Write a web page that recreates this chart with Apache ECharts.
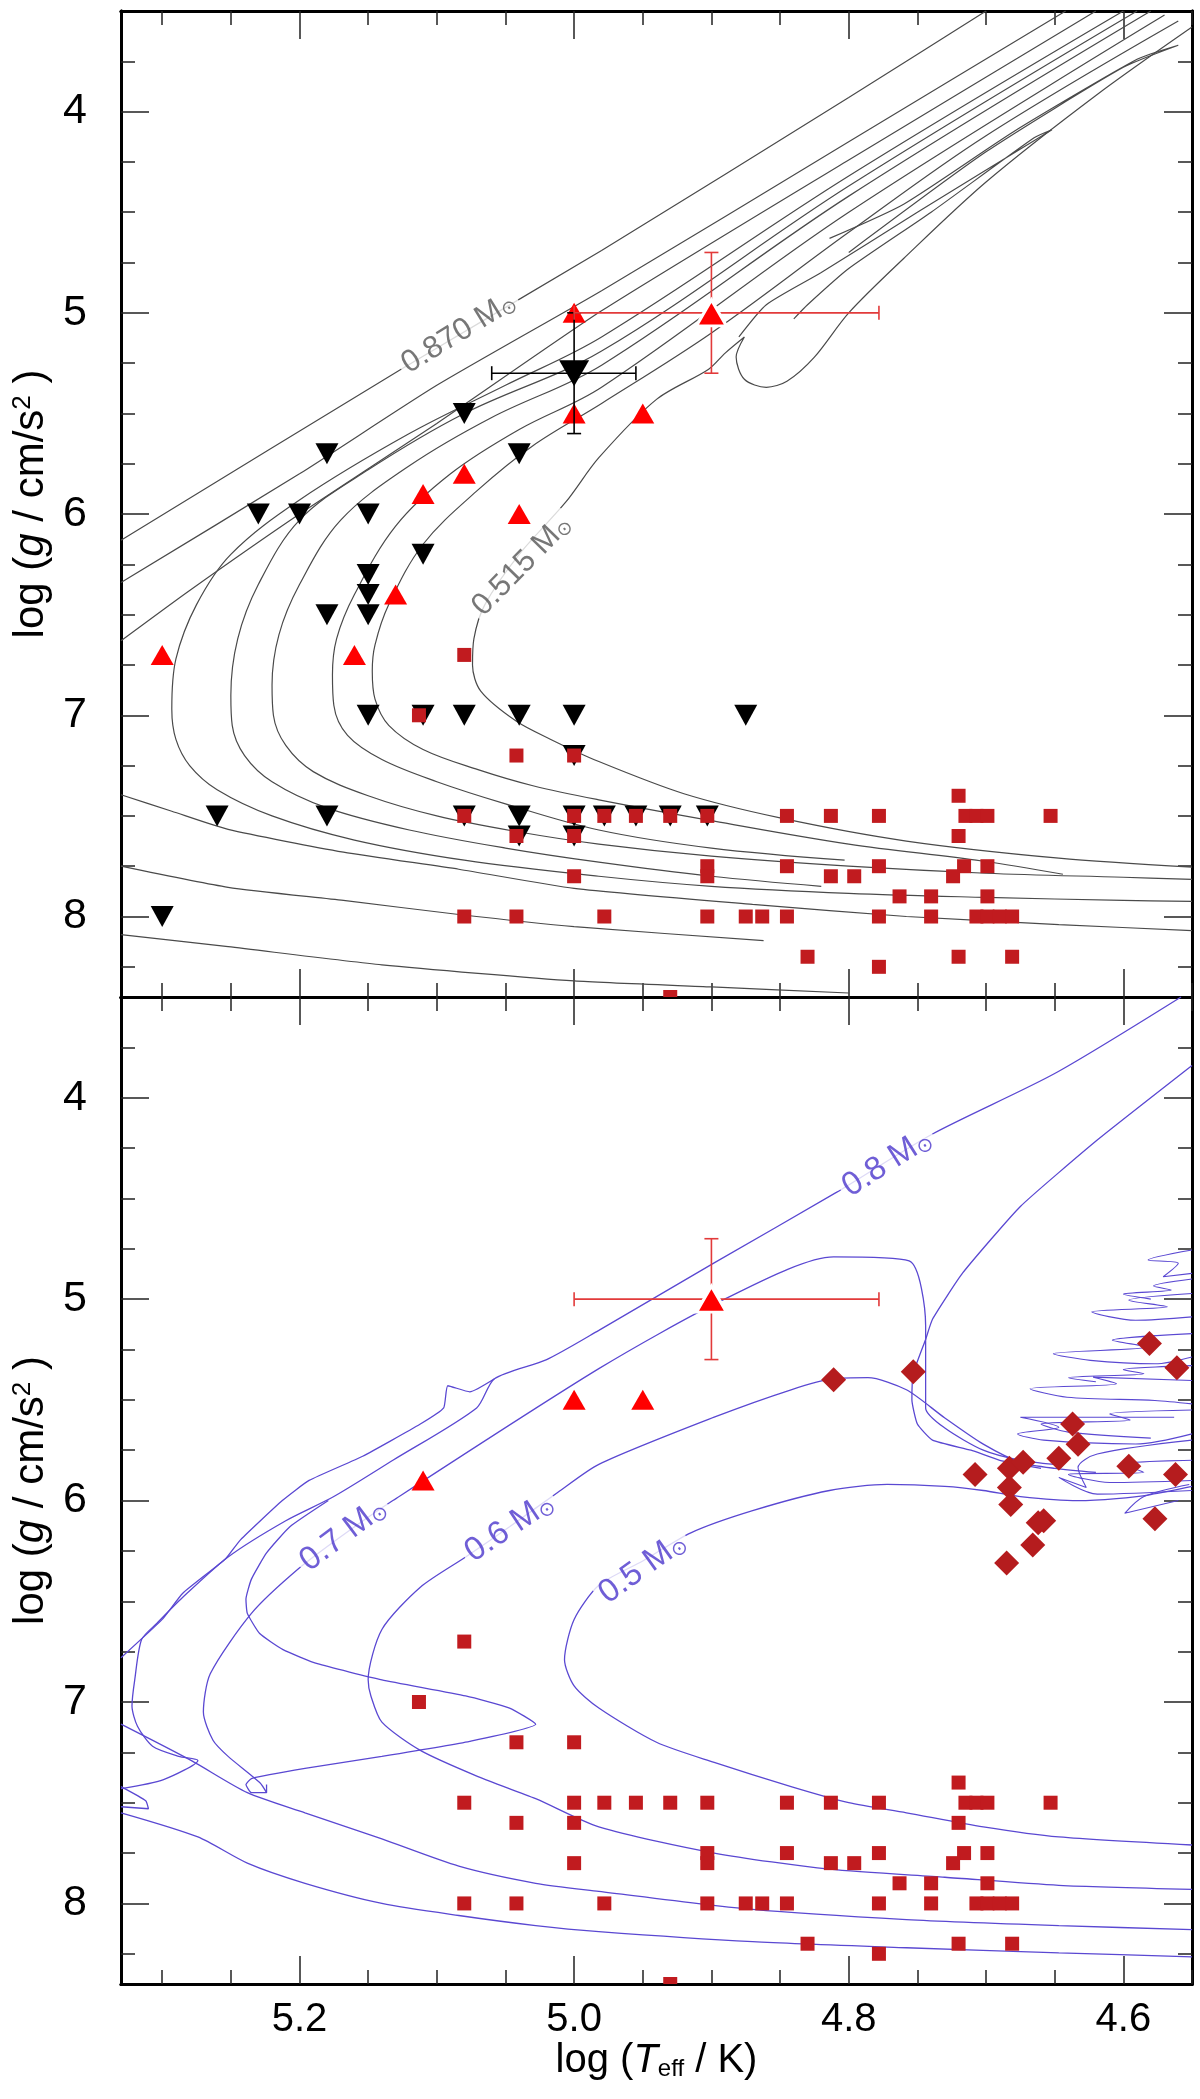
<!DOCTYPE html>
<html><head><meta charset="utf-8">
<script src="https://cdn.jsdelivr.net/npm/echarts@6/dist/echarts.min.js"></script>
<style>html,body{margin:0;padding:0;background:#fff}#c{width:1200px;height:2099px}</style>
</head><body><div id="c"></div>
<script>
// ---------------- axis ranges & ticks ----------------
const X_MIN = 4.55, X_MAX = 5.33, Y_MIN = 3.5, Y_MAX = 8.4;
const xMajorTicks = [4.6, 4.8, 5.0, 5.2];
const xMinorTicks = [4.55,4.6,4.65,4.7,4.75,4.8,4.85,4.9,4.95,5.0,5.05,5.1,5.15,5.2,5.25,5.3];
const yMajorTicks = [4, 5, 6, 7, 8];
const yMinorTicks = [3.75,4,4.25,4.5,4.75,5,5.25,5.5,5.75,6,6.25,6.5,6.75,7,7.25,7.5,7.75,8,8.25];

// ---------------- observed stars ----------------
const redSquares = [
 [5.08,6.7],[5.113,7.0],[5.042,7.2],[5.0,7.2],
 [5.08,7.5],[5.0,7.5],[4.978,7.5],[4.955,7.5],[4.93,7.5],[4.903,7.5],[4.845,7.5],[4.813,7.5],[4.778,7.5],
 [4.715,7.5],[4.707,7.5],[4.699,7.5],[4.653,7.5],[4.72,7.4],
 [5.042,7.6],[5.0,7.6],[4.72,7.6],
 [4.903,7.75],[4.845,7.75],[4.778,7.75],[4.716,7.75],[4.699,7.75],
 [5.0,7.8],[4.903,7.8],[4.813,7.8],[4.796,7.8],[4.724,7.8],
 [4.763,7.9],[4.74,7.9],[4.699,7.9],
 [5.08,8.0],[5.042,8.0],[4.978,8.0],[4.903,8.0],[4.875,8.0],[4.863,8.0],[4.845,8.0],[4.778,8.0],
 [4.74,8.0],[4.707,8.0],[4.699,8.0],[4.69,8.0],[4.681,8.0],
 [4.83,8.2],[4.72,8.2],[4.681,8.2],[4.778,8.25],[4.93,8.4]
];
const blackDown = [
 [5.08,5.5],[5.18,5.7],[5.04,5.7],[5.23,6.0],[5.2,6.0],[5.15,6.0],[5.11,6.2],[5.15,6.3],[5.15,6.4],
 [5.18,6.5],[5.15,6.5],[5.15,7.0],[5.11,7.0],[5.08,7.0],[5.04,7.0],[5.0,7.0],[4.875,7.0],[5.0,7.2],
 [5.26,7.5],[5.18,7.5],[5.08,7.5],[5.04,7.5],[5.0,7.5],[4.978,7.5],[4.955,7.5],[4.93,7.5],[4.903,7.5],
 [5.04,7.6],[5.0,7.6],[5.3,8.0]
];
const redUpTop = [[5.30,6.7],[5.16,6.7],[5.13,6.4],[5.11,5.9],[5.08,5.8],[5.04,6.0],[5.0,5.0],[5.0,5.5],[4.95,5.5]];
const redUpBottom = [[5.11,5.9],[5.0,5.5],[4.95,5.5]];
const diamonds = [
 [4.811,5.40],[4.753,5.36],[4.581,5.22],[4.561,5.34],[4.637,5.62],[4.633,5.72],[4.647,5.79],[4.596,5.83],
 [4.562,5.87],[4.708,5.87],[4.683,5.84],[4.673,5.81],[4.683,5.935],[4.682,6.02],[4.658,6.10],[4.662,6.11],
 [4.666,6.22],[4.685,6.31],[4.577,6.09]
];
// [logT, logg, logT_left, logT_right, logg_top, logg_bottom]
const bigRed = [[4.90, 5.0, 5.0, 4.778, 4.7, 5.3]];
const bigBlack = [[5.0, 5.3, 5.06, 4.955, 5.0, 5.6]];

// ---------------- top panel tracks (grey) ----------------
const trkA = [[4.70,3.50],[4.80,3.93],[4.98,4.69],[5.126,5.28],[5.33,6.13]];
const trkAlow = [[5.33,8.09],[5.252,8.15],[5.14,8.24],[5.0,8.32],[4.9,8.35],[4.8,8.38]];
const trkB = [[4.642,3.50],[4.80,4.15],[4.98,4.89],[5.1,5.36],[5.2,5.80],[5.33,6.34]];
const trkBlow = [[5.33,7.75],[5.252,7.855],[5.168,7.92],[5.084,7.99],[5.0,8.05],[4.862,8.12]];
const trkC = [[4.62,3.50],[4.80,4.24],[4.98,4.99],[5.1,5.55],[5.2,6.0],[5.28,6.38],[5.33,6.63]];
const trkClow = [[5.33,7.395],[5.293,7.477],[5.252,7.567],[5.168,7.68],[5.084,7.765],[5.0,7.86],[4.87,7.94],[4.758,8.0],[4.647,8.04],[4.55,8.07]];
const trkD = [[4.60,3.50],[4.80,4.32],[4.98,5.12],[5.05,5.36],[5.12,5.60],[5.2,5.93],[5.25,6.2],[5.275,6.45],[5.29,6.72],[5.293,6.97],[5.29,7.12],[5.28,7.25],[5.26,7.37],[5.22,7.5],[5.16,7.62],[5.08,7.72],[4.982,7.80],[4.9,7.85],[4.8,7.885],[4.7,7.905],[4.6,7.92],[4.55,7.925]];
const trkE = [[4.59,3.50],[4.80,4.37],[4.98,5.19],[5.08,5.50],[5.15,5.78],[5.2,6.03],[5.23,6.35],[5.245,6.62],[5.25,6.9],[5.249,7.05],[5.24,7.2],[5.22,7.33],[5.18,7.46],[5.12,7.57],[5.05,7.66],[4.982,7.73],[4.9,7.80],[4.82,7.85]];
const trkF = [[4.58,3.50],[4.80,4.42],[4.98,5.26],[5.06,5.52],[5.12,5.76],[5.17,6.03],[5.2,6.35],[5.215,6.6],[5.22,6.85],[5.219,7.0],[5.21,7.15],[5.19,7.28],[5.15,7.4],[5.1,7.5],[5.04,7.58],[4.982,7.64],[4.9,7.7],[4.8,7.75],[4.7,7.785],[4.6,7.805],[4.55,7.815]];
const trkG = [[4.57,3.52],[4.80,4.50],[4.98,5.37],[5.04,5.58],[5.09,5.80],[5.13,6.06],[5.16,6.4],[5.173,6.62],[5.176,6.8],[5.175,6.95],[5.165,7.1],[5.14,7.22],[5.1,7.33],[5.05,7.44],[4.982,7.57],[4.9,7.66],[4.803,7.72]];
const trkH = [[4.56,3.55],[4.70,4.12],[4.80,4.60],[4.90,5.10],[4.98,5.45],[5.03,5.66],[5.07,5.88],[5.11,6.15],[5.135,6.45],[5.145,6.65],[5.147,6.78],[5.145,6.92],[5.135,7.05],[5.11,7.17],[5.07,7.27],[5.03,7.35],[4.982,7.42],[4.898,7.526],[4.80,7.64],[4.703,7.724],[4.644,7.79]];
const trkI = [[4.55,3.58],[4.62,3.92],[4.70,4.35],[4.76,4.73],[4.80,5.0],[4.825,5.22],[4.845,5.34],[4.86,5.37],[4.876,5.33],[4.882,5.22],[4.876,5.12],[4.89,5.2],[4.902,5.28],[4.94,5.43],[4.982,5.72],[5.006,5.94],[5.04,6.2],[5.065,6.45],[5.073,6.62],[5.074,6.75],[5.068,6.88],[5.042,7.03],[5.017,7.12],[4.982,7.23],[4.92,7.39],[4.85,7.51],[4.758,7.625],[4.647,7.71],[4.55,7.755]];
const trkFinger1 = [[4.88,5.12],[4.86,4.96],[4.82,4.80],[4.75,4.50],[4.652,4.09],[4.665,4.13],[4.74,4.50],[4.80,4.78],[4.83,4.96],[4.84,5.03]];
const trkFinger2 = [[4.80,4.70],[4.70,4.20],[4.60,3.78],[4.56,3.67],[4.59,3.74],[4.68,4.10],[4.76,4.46],[4.814,4.63]];

// ---------------- bottom panel tracks (blue) ----------------
const blue08 = [[4.558,3.5],[4.65,3.88],[4.739,4.18],[4.809,4.47],[4.898,4.82],[4.982,5.155],[5.02,5.30],[5.058,5.395],[5.071,5.54],[5.132,5.80],[5.175,5.98],[5.21,6.1],[5.252,6.28],[5.285,6.48],[5.304,6.61],[5.315,6.69],[5.32,6.89],[5.322,7.02],[5.318,7.12],[5.307,7.22],[5.288,7.27],[5.274,7.29],[5.299,7.385],[5.33,7.43]];
const blue08b = [[5.058,5.395],[5.076,5.46],[5.092,5.43],[5.095,5.54],[5.112,5.62],[5.154,5.78],[5.193,5.90],[5.2125,6.0],[5.243,6.195],[5.254,6.29],[5.285,6.46],[5.30,6.59],[5.33,6.78]];
const blueLoopC = [[5.179,6.0],[5.207,6.13],[5.224,6.26],[5.235,6.39],[5.239,6.49],[5.238,6.56],[5.229,6.66],[5.212,6.74],[5.187,6.81],[5.14,6.89],[5.079,6.97],[5.047,7.03],[5.028,7.11],[5.076,7.195],[5.14,7.27],[5.196,7.33],[5.235,7.38],[5.239,7.41],[5.235,7.45],[5.224,7.45],[5.224,7.41]];
const blue07 = [[4.65,5.82],[4.675,5.80],[4.702,5.75],[4.73,5.64],[4.744,5.54],[4.744,5.13],[4.756,4.81],[4.811,4.79],[4.892,5.005],[4.982,5.345],[5.132,6.0],[5.168,6.17],[5.201,6.34],[5.235,6.56],[5.265,6.86],[5.27,7.05],[5.263,7.19],[5.252,7.27],[5.229,7.40],[5.224,7.45]];
const blueCool1 = [[5.33,7.11],[5.279,7.29],[5.238,7.45],[5.196,7.55],[5.14,7.68],[5.084,7.815],[5.028,7.90],[4.982,7.94],[4.87,8.03],[4.758,8.08],[4.647,8.11],[4.55,8.13]];
const blueCool2 = [[5.33,7.55],[5.274,7.67],[5.238,7.80],[5.196,7.90],[5.14,8.0],[5.084,8.06],[5.028,8.11],[4.982,8.14],[4.87,8.19],[4.758,8.22],[4.647,8.245],[4.55,8.265]];
const blueEdgeLoop = [[5.33,7.42],[5.312,7.49],[5.31,7.53],[5.33,7.52]];
const blue06 = [[4.62,5.86],[4.65,5.84],[4.675,5.81],[4.702,5.72],[4.73,5.59],[4.758,5.45],[4.786,5.39],[4.811,5.395],[4.842,5.45],[4.898,5.586],[4.982,5.82],[5.012,5.96],[5.047,6.13],[5.079,6.28],[5.112,6.43],[5.14,6.64],[5.15,6.89],[5.148,6.97],[5.14,7.10],[5.112,7.24],[5.07,7.37],[5.028,7.48],[4.982,7.62],[4.898,7.75],[4.814,7.83],[4.73,7.87],[4.647,7.91],[4.55,7.93]];
const blue05 = [[4.55,5.93],[4.58,5.97],[4.605,5.99],[4.633,6.0],[4.675,5.98],[4.702,5.95],[4.73,5.93],[4.772,5.92],[4.814,5.95],[4.870,6.05],[4.915,6.16],[4.95,6.3],[4.982,6.42],[5.0,6.59],[5.007,6.79],[5.0,6.92],[4.982,7.03],[4.94,7.20],[4.898,7.30],[4.842,7.42],[4.80,7.50],[4.758,7.55],[4.702,7.62],[4.647,7.67],[4.55,7.71]];
const blueAGB = [[4.55,3.84],[4.619,4.21],[4.675,4.54],[4.717,4.87],[4.739,5.10],[4.744,5.20],[4.753,5.37],[4.754,5.50],[4.75,5.62],[4.739,5.70],[4.711,5.75],[4.69,5.80],[4.66,5.84]];
const blueFingerA = [[4.55,4.756],[4.582,4.806],[4.56,4.822],[4.571,4.889],[4.55,4.872]];
const blueFingerB = [[4.55,4.972],[4.596,5.005],[4.568,5.038],[4.623,5.063],[4.591,5.105],[4.55,5.088]];
const blueFingerC = [[4.55,5.171],[4.608,5.204],[4.582,5.238],[4.651,5.271],[4.624,5.304],[4.577,5.321],[4.55,5.287]];
const blueFingerD = [[4.55,5.404],[4.622,5.387],[4.605,5.42],[4.668,5.445],[4.641,5.487],[4.577,5.503],[4.55,5.52]];
const blueFingerE = [[4.563,5.586],[4.675,5.586],[4.647,5.636],[4.677,5.669],[4.658,5.70],[4.591,5.719],[4.55,5.669]];
const blueFingerF = [[4.55,5.70],[4.619,5.769],[4.633,5.836],[4.627,5.935],[4.647,5.885],[4.619,5.968],[4.55,5.95]];
const blueFingerG = [[4.552,5.92],[4.585,5.98],[4.599,6.063],[4.56,6.0]];
const blueFingerH = [[4.55,4.90],[4.578,4.935],[4.565,4.955],[4.60,4.975],[4.58,5.0]];
const blueFingerI = [[4.55,5.33],[4.60,5.35],[4.585,5.37],[4.64,5.39],[4.62,5.41]];
const blueFingerJ = [[4.55,5.55],[4.61,5.57],[4.595,5.60],[4.66,5.62],[4.64,5.66],[4.58,5.69]];
const blueFingerK = [[4.55,5.80],[4.60,5.82],[4.585,5.86],[4.64,5.87],[4.61,5.91],[4.55,5.90]];

// ---------------- track labels ----------------
const topLabelText = ['0.870', '0.515'];
const topLabelPos = [[5.084, 5.10], [5.038, 6.255]];
const bottomLabelText = ['0.8', '0.7', '0.6', '0.5'];
const bottomLabelPos = [[4.772, 4.324], [5.168, 6.17], [5.047, 6.134], [4.95, 6.335]];

// ---------------- rendering ----------------
const FONT = '"Liberation Sans", Arial, Helvetica, sans-serif';
const GREY = '#4a4a4a', BLUE = '#5a48d2', BLUE_TXT = '#4b36cc';
const topAngles = [31.6, 45.7];
const bottomAngles = [32.4, 37, 33.5, 35.6];
const grids = [
  {left: 121, right: 8, top: 11, height: 986},
  {left: 121, right: 8, top: 997, height: 987}
];
const isIn = (v, arr) => arr.some(a => Math.abs(a - v) < 1e-6);

function mkX(g, pos, ticks, len, labels) {
  const ax = {
    type: 'value', gridIndex: g, position: pos, min: X_MIN, max: X_MAX, inverse: true, interval: 0.05,
    axisLine: {show: true, onZero: false, lineStyle: {color: '#000', width: 3}},
    axisTick: {show: true, inside: true, length: len, customValues: ticks, lineStyle: {color: '#222', width: 1.5}},
    axisLabel: {show: false}, splitLine: {show: false}
  };
  if (labels) {
    ax.axisLabel = {show: true, customValues: xMajorTicks, fontSize: 40, fontFamily: FONT, color: '#000', margin: 16,
      formatter: v => isIn(v, xMajorTicks) ? v.toFixed(1) : ''};
    ax.name = '{a|log (}{i|T}{s|eff}{a| / K)}';
    ax.nameLocation = 'middle';
    ax.nameGap = 57;
    ax.nameTextStyle = {color: '#000', rich: {
      a: {fontSize: 40, fontFamily: FONT, color: '#000'},
      i: {fontSize: 40, fontFamily: FONT, fontStyle: 'italic', color: '#000'},
      s: {fontSize: 24, fontFamily: FONT, color: '#000', verticalAlign: 'bottom'}
    }};
  }
  return ax;
}
function mkY(g, pos, ticks, len, labels) {
  const ax = {
    type: 'value', gridIndex: g, position: pos, min: Y_MIN, max: Y_MAX, inverse: true, interval: 0.25,
    axisLine: {show: true, onZero: false, lineStyle: {color: '#000', width: 3}},
    axisTick: {show: true, inside: true, length: len, customValues: ticks, lineStyle: {color: '#222', width: 1.5}},
    axisLabel: {show: false}, splitLine: {show: false}
  };
  if (labels) {
    ax.axisLabel = {show: true, customValues: yMajorTicks, fontSize: 43, fontFamily: FONT, color: '#000', margin: 34,
      formatter: v => isIn(v, yMajorTicks) ? String(Math.round(v)) : ''};
  }
  return ax;
}
const xAxis = [], yAxis = [];
for (let g = 0; g < 2; g++) {
  xAxis.push(mkX(g, 'bottom', xMinorTicks, 14, g === 1));
  xAxis.push(mkX(g, 'bottom', xMajorTicks, 28, false));
  xAxis.push(mkX(g, 'top', xMinorTicks, 14, false));
  xAxis.push(mkX(g, 'top', xMajorTicks, 28, false));
  yAxis.push(mkY(g, 'left', yMinorTicks, 14, true));
  yAxis.push(mkY(g, 'left', yMajorTicks, 28, false));
  yAxis.push(mkY(g, 'right', yMinorTicks, 14, false));
  yAxis.push(mkY(g, 'right', yMajorTicks, 28, false));
}

const series = [];
function line(g, data, color, width, smooth) {
  series.push({type: 'line', xAxisIndex: g * 4, yAxisIndex: g * 4, data: data, showSymbol: false, symbol: 'none',
    smooth: smooth, lineStyle: {color: color, width: width}, silent: true, z: 1, animation: false});
}
function scatter(g, data, symbol, size, color, rotate, z, border) {
  series.push({type: 'scatter', xAxisIndex: g * 4, yAxisIndex: g * 4, data: data, symbol: symbol, symbolSize: size,
    symbolRotate: rotate || 0, itemStyle: Object.assign({color: color, opacity: 1}, border || {}), z: z, silent: true, animation: false});
}
// squares drawn as a clipped custom series so that marks on the frame are cut like in the original
function squares(g, data, color, size, z) {
  series.push({type: 'custom', xAxisIndex: g * 4, yAxisIndex: g * 4, data: data, z: z, silent: true, animation: false,
    clip: true, encode: {x: 0, y: 1},
    renderItem: function (params, api) {
      const p = api.coord([api.value(0), api.value(1)]);
      return {type: 'rect', shape: {x: p[0] - size / 2, y: p[1] - size / 2, width: size, height: size},
        style: {fill: color}};
    }});
}
function errbars(g, data, color, z) {
  series.push({type: 'custom', xAxisIndex: g * 4, yAxisIndex: g * 4, data: data, z: z, silent: true, animation: false,
    encode: {x: 0, y: 1},
    renderItem: function (params, api) {
      const x = api.value(0), y = api.value(1);
      const pL = api.coord([api.value(2), y]), pR = api.coord([api.value(3), y]);
      const pT = api.coord([x, api.value(4)]), pB = api.coord([x, api.value(5)]);
      const cap = 7, st = {stroke: color, lineWidth: 1.6};
      return {type: 'group', children: [
        {type: 'line', shape: {x1: pL[0], y1: pL[1], x2: pR[0], y2: pR[1]}, style: st},
        {type: 'line', shape: {x1: pL[0], y1: pL[1] - cap, x2: pL[0], y2: pL[1] + cap}, style: st},
        {type: 'line', shape: {x1: pR[0], y1: pR[1] - cap, x2: pR[0], y2: pR[1] + cap}, style: st},
        {type: 'line', shape: {x1: pT[0], y1: pT[1], x2: pB[0], y2: pB[1]}, style: st},
        {type: 'line', shape: {x1: pT[0] - cap, y1: pT[1], x2: pT[0] + cap, y2: pT[1]}, style: st},
        {type: 'line', shape: {x1: pB[0] - cap, y1: pB[1], x2: pB[0] + cap, y2: pB[1]}, style: st}
      ]};
    }});
}
function labels(g, texts, pos, angles, color, size) {
  series.push({type: 'scatter', xAxisIndex: g * 4, yAxisIndex: g * 4, symbolSize: 1, silent: true, z: 3, animation: false,
    itemStyle: {color: 'rgba(0,0,0,0)'},
    data: texts.map((t, i) => ({value: pos[i], label: {show: true, position: 'inside', rotate: angles[i],
      formatter: '{n|' + t + ' M}{s|\u2299}', backgroundColor: '#fff', padding: [0, 4],
      rich: {n: {fontSize: size, fontFamily: FONT, color: color}, s: {fontSize: Math.round(size * 0.62), fontFamily: 'DejaVu Sans', color: color, verticalAlign: 'bottom'}}}}))});
}

// top panel
[trkA, trkAlow, trkB, trkBlow, trkC, trkClow].forEach(d => line(0, d, GREY, 1.2, 0.2));
[trkD, trkE, trkF, trkG, trkH].forEach(d => line(0, d, GREY, 1.2, 0.35));
line(0, trkI, GREY, 1.2, 0.3);
line(0, trkFinger1, GREY, 1.2, 0.2);
line(0, trkFinger2, GREY, 1.2, 0.2);
labels(0, topLabelText, topLabelPos, topAngles, '#555', 31);
scatter(0, blackDown, 'triangle', [23, 21], '#000', 180, 4);
squares(0, redSquares, '#c11b1f', 14, 5);
scatter(0, redUpTop, 'triangle', [23, 20], '#ff0000', 0, 6);
errbars(0, bigBlack, '#000', 7);
scatter(0, bigBlack.map(r => [r[0], r[1]]), 'triangle', [30, 26], '#000', 180, 8);
errbars(0, bigRed, '#e23a3a', 7);
scatter(0, bigRed.map(r => [r[0], r[1]]), 'triangle', [30, 26], '#ff0000', 0, 8, {borderColor: '#fff', borderWidth: 3});

// bottom panel
[blue08, blue07, blue06, blue05, blueCool1, blueCool2].forEach(d => line(1, d, BLUE, 1.3, 0.25));
[blue08b, blueLoopC, blueEdgeLoop, blueAGB].forEach(d => line(1, d, BLUE, 1.3, 0.15));
[blueFingerA, blueFingerB, blueFingerC, blueFingerD, blueFingerE, blueFingerF, blueFingerG,
 blueFingerH, blueFingerI, blueFingerJ, blueFingerK].forEach(d => line(1, d, BLUE, 1.1, 0.3));
labels(1, bottomLabelText, bottomLabelPos, bottomAngles, BLUE_TXT, 33);
squares(1, redSquares, '#c11b1f', 14, 5);
scatter(1, redUpBottom, 'triangle', [23, 20], '#ff0000', 0, 6);
scatter(1, diamonds, 'diamond', [25, 25], '#b51c1e', 0, 6);
errbars(1, bigRed, '#e23a3a', 7);
scatter(1, bigRed.map(r => [r[0], r[1]]), 'triangle', [30, 26], '#ff0000', 0, 8, {borderColor: '#fff', borderWidth: 3});

const yTitle = (g) => ({
  type: 'text', x: 31, y: grids[g].top + grids[g].height / 2, rotation: Math.PI / 2, z: 100,
  style: {text: '{a|log (}{i|g}{a| / cm/s}{s|2}{a| )}', align: 'center', verticalAlign: 'middle',
    rich: {
      a: {fontSize: 42, fontFamily: FONT, fill: '#000'},
      i: {fontSize: 42, fontFamily: FONT, fontStyle: 'italic', fill: '#000'},
      s: {fontSize: 26, fontFamily: FONT, fill: '#000', verticalAlign: 'top'}
    }}
});

const chart = echarts.init(document.getElementById('c'), null, {renderer: 'canvas'});
chart.setOption({
  animation: false,
  backgroundColor: '#fff',
  grid: grids,
  xAxis: xAxis,
  yAxis: yAxis,
  series: series,
  graphic: [yTitle(0), yTitle(1)]
});
</script></body></html>
